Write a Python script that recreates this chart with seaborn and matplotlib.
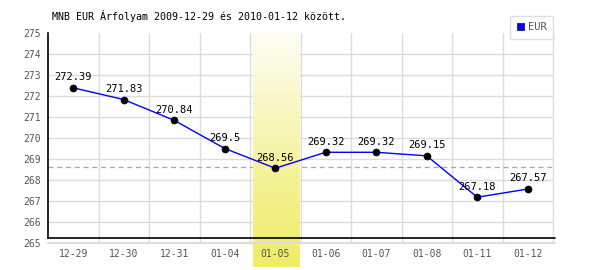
import numpy as np
import pandas as pd
import matplotlib
matplotlib.use("Agg")
import matplotlib.pyplot as plt
from matplotlib.patches import Patch
from matplotlib.colors import LinearSegmentedColormap
import seaborn as sns

dates = ["12-29", "12-30", "12-31", "01-04", "01-05", "01-06", "01-07", "01-08", "01-11", "01-12"]
rates = [272.39, 271.83, 270.84, 269.5, 268.56, 269.32, 269.32, 269.15, 267.18, 267.57]
rate_labels = ["272.39", "271.83", "270.84", "269.5", "268.56", "269.32", "269.32", "269.15", "267.18", "267.57"]
highlight_date = "01-05"
ref_level = 268.6
y_ticks = list(range(265, 276))
title = "MNB EUR Árfolyam 2009-12-29 és 2010-01-12 között."
series_name = "EUR"

sns.set_theme(style="white")
plt.rcParams["font.family"] = ["DejaVu Sans Mono", "DejaVu Sans"]

df = pd.DataFrame({"date": dates, "rate": rates})
df["pos"] = np.arange(len(df))

fig = plt.figure(figsize=(6, 2.7), dpi=100)
ax = fig.add_axes([48 / 600, 1 - 243 / 270, 505 / 600, 210 / 270])

ax.set_xlim(-0.5, len(dates) - 0.5)
ax.set_ylim(265, 275)

# manual grid, below the highlight band
GRID = "#dcdcdc"
for yv in y_ticks[1:-1]:
    ax.axhline(yv, color=GRID, lw=1, zorder=1)
for xv in np.arange(0.5, len(dates) + 0.5, 1):
    ax.axvline(xv, color=GRID, lw=1, zorder=1, clip_on=False)
ax.axhline(ref_level, color="#a0a0e0", lw=0.9, ls=(0, (4, 3)), zorder=1.2)

# highlight band with vertical gradient
hi = dates.index(highlight_date)
cmap = LinearSegmentedColormap.from_list("hl", ["#fefef6", "#f6f4a8", "#efed62"])
grad = np.linspace(0, 1, 256).reshape(-1, 1)
ax.imshow(grad, cmap=cmap, aspect="auto", origin="upper",
          extent=(hi - 0.45, hi + 0.48, 263.85, 275), clip_on=False, zorder=1.5)

ax.set_yticks(y_ticks)
ax.set_xticks(np.arange(len(dates)))
ax.set_xticklabels(dates)
ax.grid(False)
ax.set_axisbelow(False)
ax.tick_params(which="both", length=0)
ax.tick_params(axis="y", pad=5, labelsize=7, labelcolor="#555555")
ax.tick_params(axis="x", pad=4, labelsize=7, labelcolor="#555555")

for s in ["top", "right", "bottom"]:
    ax.spines[s].set_visible(False)
ax.spines["left"].set_color("black")
ax.spines["left"].set_linewidth(1.2)
ax.spines["left"].set_bounds(265.24, 275)
ax.spines["left"].set_zorder(3)
ax.axhline(265, color=GRID, lw=1.5, zorder=2, xmax=1.004, clip_on=False)
ax.axhline(265.24, color="black", lw=1.2, zorder=3, xmax=1.004, clip_on=False)

# series
sns.lineplot(data=df, x="pos", y="rate", ax=ax, color="#0000ff", lw=1, zorder=4, legend=False)
sns.scatterplot(data=df, x="pos", y="rate", ax=ax, color="black", s=26, edgecolor="black", zorder=5, legend=False)
ax.set_xlabel("")
ax.set_ylabel("")

for x, y, t in zip(df["pos"], df["rate"], rate_labels):
    ax.annotate(t, (x, y), xytext=(0, 4), textcoords="offset points",
                ha="center", va="bottom", fontsize=7.5, color="black", zorder=6)

fig.text(52 / 600, 1 - 16 / 270, title, fontsize=7.2, color="black", ha="left", va="center")

handle = Patch(facecolor="#0000ff", edgecolor="#333366", lw=0.8)
leg = fig.legend([handle], [series_name], loc="upper right",
                 bbox_to_anchor=(553 / 600, 1 - 16 / 270), frameon=True, fancybox=False,
                 fontsize=7.5, handlelength=0.75, handleheight=0.75, handletextpad=0.35,
                 borderpad=0.6, borderaxespad=0)
leg.get_frame().set_edgecolor("#d8d8d8")
leg.get_frame().set_linewidth(1)
for t in leg.get_texts():
    t.set_color("#555555")

fig.savefig("out.png", dpi=100)
